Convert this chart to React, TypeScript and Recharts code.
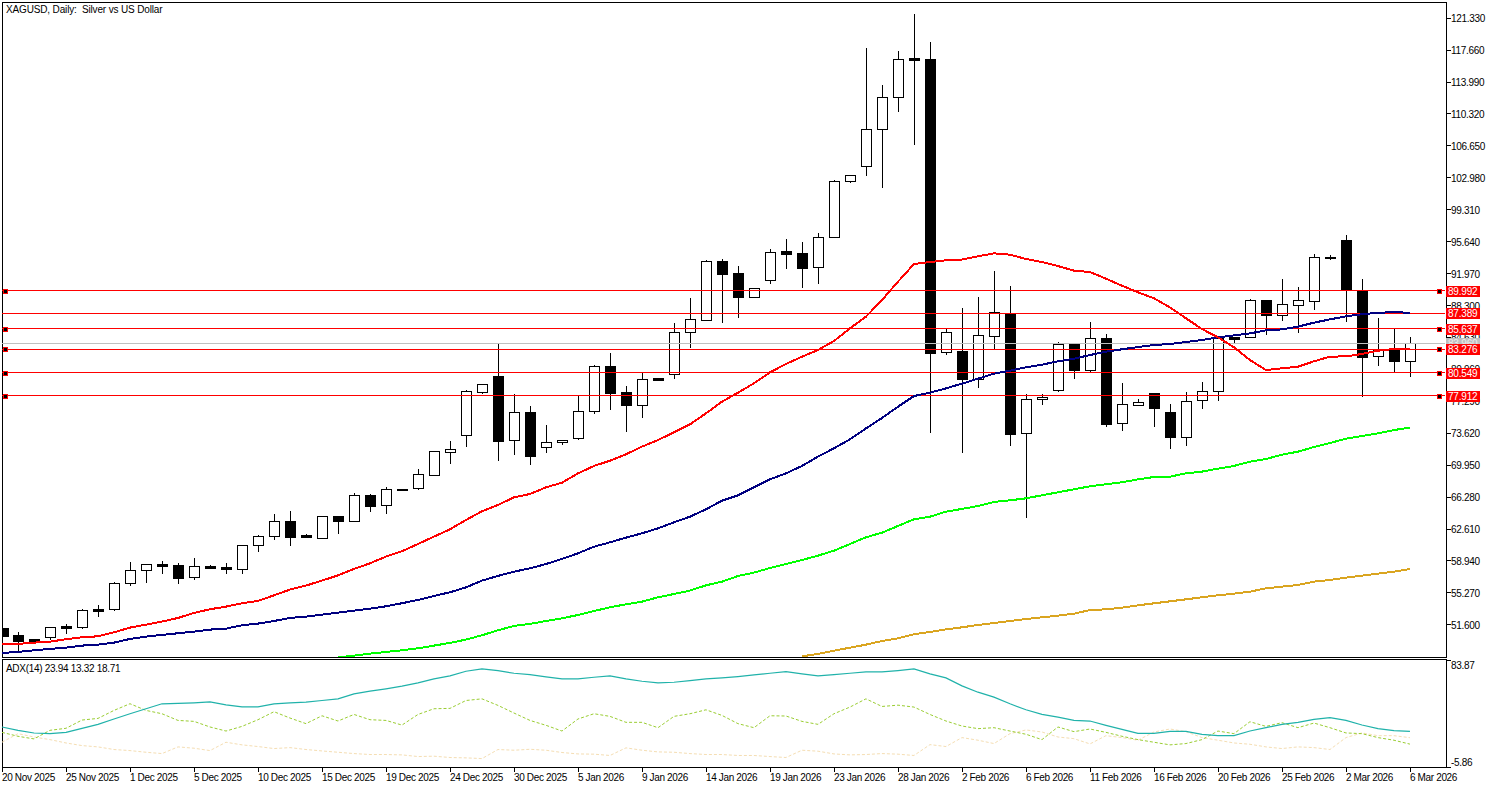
import { Bar, ComposedChart, Line, ReferenceLine, XAxis, YAxis } from 'recharts';

const opens = [
  51.2, 50.4, 49.98, 50.17, 51.47, 51.32, 53.42, 53.39, 56.37, 57.87, 58.6, 58.48, 57.06, 58.37, 58.25,
  58.06, 60.74, 61.78, 63.5, 61.93, 61.62, 64.07, 63.58, 66.49, 65.34, 67.22, 67.29, 68.86, 71.51, 73.46,
  78.4, 80.21, 72.81, 76.03, 72.0, 72.58, 73.12, 76.14, 81.35, 78.33, 76.91, 79.97, 80.4, 85.22, 86.68,
  93.38, 92.01, 89.32, 91.2, 94.53, 94.3, 92.7, 96.14, 102.58, 104.3, 108.56, 112.23, 116.75, 116.64, 82.93,
  83.08, 79.89, 84.84, 87.36, 73.61, 77.52, 78.63, 83.88, 80.93, 84.57, 74.76, 76.91, 78.25, 76.06, 73.23,
  77.4, 78.44, 84.64, 84.68, 88.94, 87.25, 88.4, 88.86, 93.92, 95.83, 90.05, 82.46, 83.19, 81.96,
];
const highs = [
  51.2, 50.74, 49.98, 51.32, 51.7, 53.39, 53.85, 56.49, 58.79, 58.56, 58.9, 58.67, 59.25, 58.45, 58.67,
  60.74, 61.89, 64.34, 64.65, 62.04, 64.07, 64.07, 66.79, 66.6, 67.41, 67.22, 69.48, 71.54, 72.69, 78.56,
  79.24, 84.04, 78.13, 76.75, 74.57, 72.81, 77.94, 81.47, 82.85, 79.05, 80.62, 79.97, 86.3, 89.17, 93.5,
  93.61, 92.81, 90.28, 94.76, 95.95, 95.57, 96.64, 102.69, 103.27, 117.9, 113.65, 117.56, 121.81, 118.59, 85.61,
  88.02, 89.24, 92.27, 90.54, 78.13, 78.13, 84.11, 83.96, 86.41, 85.03, 79.4, 77.52, 78.25, 76.98, 78.36,
  79.51, 84.53, 84.72, 89.01, 88.94, 91.35, 90.43, 94.22, 94.11, 96.41, 91.35, 86.83, 85.64, 84.68,
];
const lows = [
  50.36, 48.52, 49.78, 49.86, 50.55, 51.16, 52.54, 53.23, 56.11, 56.45, 57.48, 56.3, 56.76, 58.17, 57.48,
  57.48, 59.97, 61.35, 60.7, 61.74, 61.51, 62.08, 63.46, 64.61, 64.38, 66.99, 67.14, 68.75, 70.09, 72.08,
  78.13, 70.47, 71.12, 69.97, 71.39, 72.31, 72.85, 75.87, 76.29, 73.77, 75.38, 79.67, 79.9, 83.46, 86.57,
  86.34, 86.91, 89.32, 90.82, 92.54, 90.36, 90.82, 96.14, 102.39, 103.23, 101.85, 110.59, 106.79, 73.61, 82.66,
  71.31, 78.86, 83.3, 72.19, 63.92, 76.87, 78.4, 79.89, 80.62, 74.34, 73.92, 76.83, 74.38, 71.85, 72.19,
  76.45, 77.37, 83.96, 84.64, 84.91, 86.56, 85.14, 87.79, 93.53, 86.45, 77.83, 81.39, 80.51, 80.12,
];
const closes = [
  50.36, 49.78, 49.78, 51.32, 51.28, 53.27, 53.19, 56.37, 57.87, 58.56, 58.37, 57.02, 58.33, 58.17, 58.06,
  60.74, 61.78, 63.5, 61.74, 61.74, 64.07, 63.58, 66.49, 65.3, 67.18, 67.1, 68.9, 71.54, 71.77, 78.44,
  79.24, 72.77, 76.03, 71.05, 72.58, 72.81, 76.14, 81.31, 78.29, 76.91, 79.82, 79.78, 85.22, 86.72, 93.38,
  91.97, 89.32, 90.28, 94.42, 94.27, 92.66, 96.14, 102.58, 103.27, 108.56, 112.23, 116.6, 116.56, 82.89, 85.22,
  79.86, 84.87, 87.52, 73.57, 77.52, 77.79, 83.84, 80.93, 84.53, 74.72, 76.94, 77.25, 76.56, 73.23, 77.29,
  78.44, 84.53, 84.49, 88.94, 87.25, 88.44, 88.94, 93.84, 93.8, 90.08, 82.42, 83.27, 81.96, 83.96,
];

const maRed = [
  49.4, 49.4, 49.55, 49.67, 49.94, 50.17, 50.28, 50.74, 51.28, 51.62, 51.97, 52.39, 52.96, 53.39, 53.69,
  54.08, 54.34, 54.99, 55.65, 56.11, 56.68, 57.29, 58.02, 58.67, 59.44, 60.05, 60.89, 61.74, 62.58, 63.65,
  64.65, 65.38, 66.25, 66.64, 67.4, 67.94, 69.01, 69.86, 70.47, 71.2, 72.08, 72.84, 73.72, 74.64, 75.91,
  77.25, 78.28, 79.36, 80.62, 81.58, 82.42, 83.19, 84.22, 85.68, 87.02, 88.93, 91.04, 93.07, 93.3, 93.5,
  93.58, 93.96, 94.3, 94.15, 93.65, 93.3, 92.84, 92.31, 92.15, 91.39, 90.58, 89.82, 89.13, 88.09, 86.83,
  85.6, 84.64, 83.5, 82.04, 80.89, 81.08, 81.27, 81.89, 82.42, 82.46, 82.73, 83.11, 83.3, 83.34,
];
const maNavy = [
  48.37, 48.48, 48.67, 48.83, 48.98, 49.21, 49.32, 49.55, 49.98, 50.24, 50.44, 50.63, 50.82, 51.05, 51.16,
  51.55, 51.74, 52.04, 52.39, 52.54, 52.77, 53.0, 53.23, 53.46, 53.73, 54.08, 54.46, 54.92, 55.34, 55.91,
  56.68, 57.22, 57.71, 58.09, 58.59, 59.17, 59.82, 60.58, 61.08, 61.62, 62.12, 62.69, 63.38, 64.03, 64.88,
  65.87, 66.48, 67.4, 68.32, 69.01, 69.86, 70.93, 71.89, 72.92, 74.18, 75.37, 76.67, 77.9, 78.28, 78.78,
  79.32, 79.89, 80.47, 80.81, 81.2, 81.5, 81.89, 82.19, 82.61, 83.0, 83.27, 83.53, 83.76, 83.88, 84.11,
  84.34, 84.64, 84.87, 85.1, 85.45, 85.56, 85.87, 86.33, 86.71, 87.06, 87.29, 87.48, 87.52, 87.48,
];
const maLime = [
  ...Array(21).fill(null),
  47.85, 48.06, 48.29, 48.48, 48.67, 48.9, 49.21, 49.52, 49.9, 50.4, 50.97, 51.47, 51.7, 52.04, 52.35,
  52.73, 53.19, 53.61, 53.96, 54.26, 54.76, 55.14, 55.53, 56.14, 56.56, 57.21, 57.6, 58.13, 58.59, 59.05,
  59.55, 60.12, 60.89, 61.66, 62.19, 62.96, 63.73, 64.03, 64.61, 64.92, 65.26, 65.72, 65.91, 66.14, 66.49,
  66.83, 67.18, 67.52, 67.75, 67.98, 68.32, 68.59, 68.63, 69.01, 69.21, 69.55, 69.86, 70.36, 70.66, 71.16,
  71.5, 72.04, 72.5, 73.0, 73.3, 73.61, 73.99, 74.26,
];
const maGold = [
  ...Array(50).fill(null),
  47.98, 48.25, 48.63, 48.97, 49.32, 49.74, 50.05, 50.51, 50.78, 51.08, 51.31, 51.58, 51.81, 52.04, 52.27,
  52.46, 52.65, 52.88, 53.3, 53.38, 53.57, 53.84, 54.07, 54.3, 54.53, 54.76, 54.99, 55.18, 55.41, 55.79,
  55.99, 56.18, 56.56, 56.75, 57.02, 57.25, 57.48, 57.71, 58.02,
];

const adxLine = [
  27.67, 24.89, 22.67, 22.11, 23.22, 26.56, 29.9, 34.35, 38.8, 42.97, 47.15, 47.43, 47.98, 48.82, 46.31,
  44.64, 44.64, 47.15, 47.98, 48.54, 49.93, 51.32, 55.49, 57.72, 59.67, 61.89, 64.67, 68.01, 70.52, 74.41,
  76.36, 74.97, 72.74, 71.63, 69.68, 68.01, 68.01, 69.4, 70.52, 68.01, 66.07, 64.67, 65.23, 66.62, 68.01,
  68.85, 69.96, 71.35, 72.74, 74.13, 72.19, 70.52, 71.63, 72.74, 73.86, 73.86, 74.97, 76.36, 72.19, 68.85,
  62.17, 56.88, 52.71, 47.15, 42.14, 38.25, 36.02, 33.24, 32.68, 29.06, 25.73, 22.39, 22.39, 24.06, 24.06,
  21.55, 20.44, 20.44, 24.34, 27.12, 29.9, 31.57, 34.07, 35.46, 33.24, 29.34, 26.28, 24.61, 23.94,
];
const plusDi = [
  23.2, 19.9, 17.7, 24.9, 26.6, 33.5, 34.9, 41.6, 47.2, 41.6, 38.8, 33.2, 32.4, 27.7, 24.3,
  28.2, 33.8, 40.5, 35.2, 30.5, 37.1, 32.7, 38.2, 33.8, 33.2, 29.3, 38.2, 43.0, 43.3, 49.9,
  51.3, 45.8, 39.4, 33.2, 29.1, 24.3, 34.4, 38.8, 36.6, 31.6, 31.6, 27.1, 36.6, 38.8, 42.1,
  37.4, 30.5, 27.1, 37.1, 36.9, 32.4, 29.9, 38.8, 44.4, 51.3, 44.9, 46.0, 44.4, 38.2, 32.7,
  28.5, 26.3, 27.1, 24.3, 21.6, 17.1, 27.7, 23.8, 26.0, 23.2, 19.9, 17.1, 14.9, 12.7, 13.8,
  17.1, 24.3, 22.1, 32.1, 28.2, 31.3, 27.1, 31.0, 27.1, 22.7, 22.1, 18.8, 16.6, 13.32,
];
const minusDi = [
  14.9, 22.1, 19.3, 17.1, 14.3, 12.1, 11.0, 8.8, 7.9, 6.5, 5.4, 11.0, 9.9, 7.9, 14.9,
  12.7, 11.3, 9.6, 10.4, 8.8, 7.6, 6.5, 5.4, 4.6, 4.6, 4.3, 2.9, 3.2, 2.1, 1.8,
  1.2, 8.8, 8.2, 9.0, 8.2, 6.3, 5.1, 4.9, 3.8, 10.2, 8.2, 6.8, 6.5, 5.4, 4.6,
  4.6, 3.8, 3.8, 2.9, 2.1, 8.2, 7.4, 5.1, 4.3, 4.6, 5.4, 4.9, 3.8, 12.9, 11.3,
  18.8, 16.6, 13.8, 22.1, 25.2, 23.5, 19.3, 17.9, 13.5, 20.4, 18.8, 16.6, 23.5, 26.0, 23.8,
  18.8, 16.6, 14.3, 13.2, 11.0, 9.6, 11.0, 10.4, 8.8, 18.8, 22.7, 20.4, 20.4, 18.71,
];

const priceTicks = [
  121.33, 117.66, 113.99, 110.32, 106.65, 102.98, 99.31, 95.64, 91.97, 88.3, 84.63, 80.96, 77.29, 73.62,
  69.95, 66.28, 62.61, 58.94, 55.27, 51.6,
];
const dateTicks = [
  '20 Nov 2025', '25 Nov 2025', '1 Dec 2025', '5 Dec 2025', '10 Dec 2025', '15 Dec 2025', '19 Dec 2025',
  '24 Dec 2025', '30 Dec 2025', '5 Jan 2026', '9 Jan 2026', '14 Jan 2026', '19 Jan 2026', '23 Jan 2026',
  '28 Jan 2026', '2 Feb 2026', '6 Feb 2026', '11 Feb 2026', '16 Feb 2026', '20 Feb 2026', '25 Feb 2026',
  '2 Mar 2026', '6 Mar 2026',
];
const levels = [89.992, 85.637, 83.276, 80.549, 77.912];
const plainLevel = 87.389;
const lastPrice = 83.96;

const candles = opens.map((open, i) => ({
  day: i,
  open,
  high: highs[i],
  low: lows[i],
  close: closes[i],
  range: [lows[i], highs[i]],
  red: maRed[i],
  navy: maNavy[i],
  lime: maLime[i],
  gold: maGold[i],
}));
const adxRows = adxLine.map((adx, i) => ({ day: i, adx, plus: plusDi[i], minus: minusDi[i] }));
const dayTicks = dateTicks.map((_, i) => i * 4);

const FONT = '"Liberation Sans", Arial, sans-serif';
const X_DOMAIN: [number, number] = [0, 90.19];
const PRICE_DOMAIN: [number, number] = [47.9, 123.075];
const PLOT_LEFT = 2;

function Candle(props: any) {
  const { x, y, width, height, payload } = props;
  const { open, high, low, close } = payload;
  const unit = height / (high - low);
  const top = y + (high - Math.max(open, close)) * unit;
  const bottom = y + (high - Math.min(open, close)) * unit;
  const mid = Math.round(x + width / 2) + 1;
  const left = mid - 5;
  const clippedLeft = Math.max(left, PLOT_LEFT + 1);
  const boxTop = Math.round(top);
  const boxHeight = Math.max(Math.round(bottom) - boxTop, 1);
  const wickTop = Math.round(y);
  const wickBottom = Math.round(y + height);
  const falling = close < open;

  return (
    <g shapeRendering="crispEdges">
      {wickTop < boxTop && <line x1={mid + 0.5} x2={mid + 0.5} y1={wickTop} y2={boxTop} stroke="#000" />}
      {wickBottom > boxTop + boxHeight && (
        <line x1={mid + 0.5} x2={mid + 0.5} y1={boxTop + boxHeight} y2={wickBottom} stroke="#000" />
      )}
      {falling ? (
        <rect x={clippedLeft} y={boxTop} width={left + 11 - clippedLeft} height={boxHeight + 1} fill="#000" />
      ) : (
        <rect x={left + 0.5} y={boxTop + 0.5} width={10} height={boxHeight} fill="none" stroke="#000" />
      )}
    </g>
  );
}

function PriceTick({ x, y, payload }: any) {
  return (
    <g>
      <line x1={x - 6} x2={x - 2} y1={y} y2={y} stroke="#000" shapeRendering="crispEdges" />
      <text x={x - 2} y={y + 4} fontFamily={FONT} fontSize={10} letterSpacing={-0.3} fill="#000">
        {payload.value.toFixed(3)}
      </text>
    </g>
  );
}

function AdxTick({ x, y, payload }: any) {
  return (
    <g>
      <line x1={x - 6} x2={x - 2} y1={y} y2={y} stroke="#000" shapeRendering="crispEdges" />
      <text x={x - 2} y={payload.value > 0 ? y + 9 : y - 1} fontFamily={FONT} fontSize={10} letterSpacing={-0.3} fill="#000">
        {payload.value.toFixed(2)}
      </text>
    </g>
  );
}

function DateTick({ x, y, payload }: any) {
  return (
    <g>
      <line x1={x + 0.5} x2={x + 0.5} y1={y - 8} y2={y - 3} stroke="#000" shapeRendering="crispEdges" />
      <text x={x} y={y + 6} fontFamily={FONT} fontSize={10} letterSpacing={-0.35} fill="#000">
        {dateTicks[payload.value / 4]}
      </text>
    </g>
  );
}

function Handle({ x, y }: { x: number; y: number }) {
  return (
    <g shapeRendering="crispEdges">
      <rect x={x} y={y - 2} width={5} height={5} fill="#f00" />
      <rect x={x + 1} y={y - 1} width={3} height={3} fill="#000" />
    </g>
  );
}

function LevelTag({ viewBox, value, fill, color, handles }: any) {
  const right = viewBox.x + viewBox.width;
  const y = Math.round(viewBox.y);
  return (
    <g>
      {handles && <Handle x={viewBox.x + 1} y={y} />}
      {handles && <Handle x={right - 8} y={y} />}
      <rect x={right + 1} y={y - 5} width={34} height={11} fill={fill} shapeRendering="crispEdges" />
      <text x={right + 3} y={y + 4} fontFamily={FONT} fontSize={10} letterSpacing={-0.2} fill={color}>
        {value.toFixed(3)}
      </text>
    </g>
  );
}

const headerStyle = {
  position: 'absolute',
  left: 6,
  fontFamily: FONT,
  fontSize: 10,
  whiteSpace: 'pre',
  color: '#000',
  zIndex: 3,
} as const;

export default function App() {
  return (
    <div style={{ position: 'absolute', left: 0, top: 0, width: 1490, height: 788, background: '#fff', overflow: 'hidden' }}>
      <div style={{ position: 'absolute', left: 2, top: 2, width: 1443, height: 654, border: '1px solid #000' }} />
      <div style={{ position: 'absolute', left: 2, top: 659, width: 1443, height: 107, border: '1px solid #000' }} />
      <div style={{ ...headerStyle, top: 4, letterSpacing: -0.15 }}>{'XAGUSD, Daily:  Silver vs US Dollar'}</div>
      <div style={{ ...headerStyle, top: 663, letterSpacing: -0.3 }}>{'ADX(14) 23.94 13.32 18.71'}</div>

      <div style={{ position: 'absolute', left: 0, top: 0 }}>
        <ComposedChart width={1490} height={658} data={candles} margin={{ top: 3, right: 0, bottom: 1, left: 2 }}>
          <XAxis dataKey="day" type="number" domain={X_DOMAIN} hide />
          <YAxis
            orientation="right"
            width={45}
            domain={PRICE_DOMAIN}
            allowDataOverflow
            ticks={priceTicks}
            interval={0}
            axisLine={false}
            tickLine={false}
            tick={<PriceTick />}
          />
          <ReferenceLine y={lastPrice} stroke="#c0c0c0" shapeRendering="crispEdges" />
          <ReferenceLine y={plainLevel} stroke="#f00" shapeRendering="crispEdges" />
          {levels.map((level) => (
            <ReferenceLine key={level} y={level} stroke="#f00" shapeRendering="crispEdges" />
          ))}
          <Bar dataKey="range" barSize={11} shape={<Candle />} isAnimationActive={false} />
          <Line dataKey="gold" stroke="#daa520" strokeWidth={2} shapeRendering="crispEdges" dot={false} activeDot={false} isAnimationActive={false} />
          <Line dataKey="lime" stroke="#00ff00" strokeWidth={2} shapeRendering="crispEdges" dot={false} activeDot={false} isAnimationActive={false} />
          <Line dataKey="navy" stroke="#000080" strokeWidth={2} shapeRendering="crispEdges" dot={false} activeDot={false} isAnimationActive={false} />
          <Line dataKey="red" stroke="#ff0000" strokeWidth={2} shapeRendering="crispEdges" dot={false} activeDot={false} isAnimationActive={false} />
        </ComposedChart>
      </div>

      {/* price tags sit in their own layer so they cover the axis ticks */}
      <div style={{ position: 'absolute', left: 0, top: 0, zIndex: 2 }}>
        <ComposedChart width={1490} height={658} data={candles} margin={{ top: 3, right: 45, bottom: 1, left: 2 }}>
          <XAxis dataKey="day" type="number" domain={X_DOMAIN} hide />
          <YAxis domain={PRICE_DOMAIN} allowDataOverflow hide />
          <ReferenceLine y={lastPrice} stroke="none" label={<LevelTag value={lastPrice} fill="#c0c0c0" color="#eee" />} />
          <ReferenceLine y={plainLevel} stroke="none" label={<LevelTag value={plainLevel} fill="#f00" color="#fff" />} />
          {levels.map((level) => (
            <ReferenceLine key={level} y={level} stroke="none" label={<LevelTag value={level} fill="#f00" color="#fff" handles />} />
          ))}
        </ComposedChart>
      </div>

      <div style={{ position: 'absolute', left: 0, top: 659 }}>
        <ComposedChart width={1490} height={129} data={adxRows} margin={{ top: 1, right: 0, bottom: 0, left: 2 }}>
          <XAxis
            dataKey="day"
            type="number"
            domain={X_DOMAIN}
            ticks={dayTicks}
            interval={0}
            height={21}
            axisLine={false}
            tickLine={false}
            tick={<DateTick />}
          />
          <YAxis
            orientation="right"
            width={45}
            domain={[-5.86, 83.87]}
            ticks={[83.87, -5.86]}
            interval={0}
            axisLine={false}
            tickLine={false}
            tick={<AdxTick />}
          />
          <Line dataKey="minus" stroke="#f5deb3" strokeWidth={1} strokeDasharray="3 2" dot={false} activeDot={false} isAnimationActive={false} />
          <Line dataKey="plus" stroke="#9acd32" strokeWidth={1} strokeDasharray="3 2" dot={false} activeDot={false} isAnimationActive={false} />
          <Line dataKey="adx" stroke="#20b2aa" strokeWidth={1.2} dot={false} activeDot={false} isAnimationActive={false} />
        </ComposedChart>
      </div>
    </div>
  );
}
